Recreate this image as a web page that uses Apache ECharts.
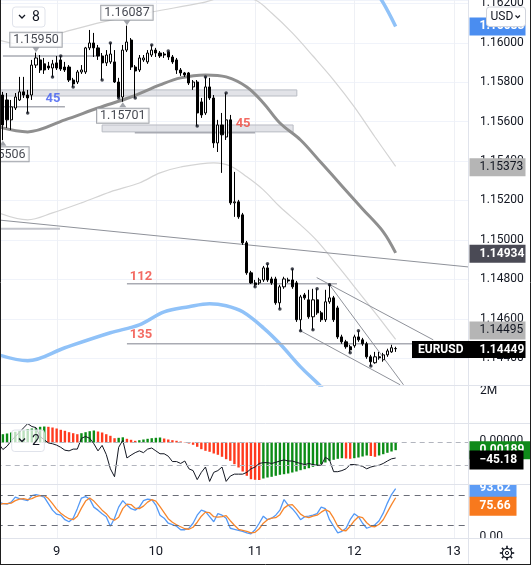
<!DOCTYPE html>
<html>
<head>
<meta charset="utf-8">
<script src="https://cdn.jsdelivr.net/npm/echarts@6.0.0/dist/echarts.min.js"></script>
<style>
html,body{margin:0;padding:0;background:#ffffff;}
#chart{width:531px;height:565px;}
</style>
</head>
<body>
<div id="chart"></div>
<script>
// ---------------- DATA ----------------
// hourly EURUSD bars; bar 0 = day 8, 10:00
const firstDay = 8, firstHour = 10, slotCount = 114;

const opens = [1.15659,1.15735,1.15710,1.15609,1.15669,1.15710,1.15751,1.15735,1.15735,1.15887,
1.15913,1.15893,1.15882,1.15872,1.15898,1.15913,1.15877,1.15877,1.15811,1.15801,
1.15852,1.15852,1.15974,1.15999,1.15974,1.15933,1.15898,1.15903,1.15903,1.15801,
1.15725,1.15963,1.16014,1.15877,1.15862,1.15913,1.15903,1.15938,1.15963,1.15948,
1.15943,1.15953,1.15928,1.15913,1.15862,1.15847,1.15847,1.15776,1.15801,1.15700,
1.15644,1.15776,1.15720,1.15492,1.15583,1.15522,1.15609,1.15188,1.15193,1.15127,
1.14985,1.14833,1.14782,1.14782,1.14797,1.14858,1.14802,1.14802,1.14681,1.14762,
1.14797,1.14797,1.14782,1.14595,1.14721,1.14696,1.14610,1.14696,1.14630,1.14595,
1.14686,1.14706,1.14655,1.14508,1.14483,1.14458,1.14463,1.14508,1.14493,1.14473,
1.14407,1.14377,1.14407,1.14392,1.14417,1.14432,1.14448];

const closes = [1.15710,1.15583,1.15609,1.15675,1.15725,1.15751,1.15735,1.15720,1.15887,1.15923,
1.15862,1.15862,1.15872,1.15893,1.15872,1.15867,1.15862,1.15811,1.15791,1.15852,
1.15862,1.15974,1.15999,1.15974,1.15933,1.15898,1.15938,1.15943,1.15801,1.15725,
1.15963,1.16004,1.15877,1.15857,1.15923,1.15923,1.15948,1.15963,1.15948,1.15933,
1.15938,1.15928,1.15903,1.15862,1.15847,1.15837,1.15796,1.15801,1.15644,1.15634,
1.15776,1.15720,1.15492,1.15583,1.15533,1.15609,1.15188,1.15193,1.15117,1.14985,
1.14833,1.14782,1.14772,1.14797,1.14858,1.14797,1.14782,1.14681,1.14762,1.14802,
1.14792,1.14762,1.14595,1.14711,1.14706,1.14610,1.14696,1.14630,1.14595,1.14686,
1.14706,1.14595,1.14508,1.14483,1.14458,1.14442,1.14508,1.14493,1.14473,1.14407,
1.14382,1.14407,1.14402,1.14417,1.14437,1.14453,1.14449];

const highs = [1.15735,1.15751,1.15745,1.15710,1.15745,1.15827,1.15827,1.15761,1.15913,1.15950,
1.15938,1.15923,1.15903,1.15913,1.15933,1.15933,1.15903,1.15887,1.15822,1.15862,
1.15887,1.15979,1.16065,1.16050,1.15989,1.15948,1.15963,1.15999,1.15963,1.15822,
1.15989,1.16087,1.16024,1.15887,1.15938,1.15938,1.15963,1.15989,1.15974,1.15958,
1.15953,1.15958,1.15938,1.15923,1.15872,1.15852,1.15852,1.15811,1.15811,1.15720,
1.15827,1.15822,1.15735,1.15609,1.15644,1.15745,1.15634,1.15345,1.15203,1.15137,
1.14995,1.14843,1.14797,1.14808,1.14868,1.14879,1.14813,1.14813,1.14772,1.14813,
1.14808,1.14853,1.14792,1.14721,1.14731,1.14747,1.14752,1.14752,1.14640,1.14747,
1.14772,1.14716,1.14666,1.14519,1.14493,1.14468,1.14519,1.14539,1.14503,1.14483,
1.14417,1.14432,1.14432,1.14427,1.14448,1.14468,1.14458];

const lows = [1.15619,1.15506,1.15568,1.15558,1.15659,1.15705,1.15720,1.15644,1.15710,1.15872,
1.15847,1.15842,1.15862,1.15827,1.15862,1.15857,1.15852,1.15801,1.15776,1.15791,
1.15842,1.15842,1.15963,1.15928,1.15913,1.15811,1.15882,1.15893,1.15796,1.15720,
1.15701,1.15953,1.15862,1.15720,1.15852,1.15903,1.15893,1.15928,1.15928,1.15923,
1.15923,1.15913,1.15893,1.15842,1.15832,1.15827,1.15786,1.15761,1.15578,1.15619,
1.15634,1.15710,1.15467,1.15446,1.15340,1.15507,1.15178,1.15117,1.15107,1.14975,
1.14823,1.14777,1.14762,1.14772,1.14787,1.14787,1.14772,1.14671,1.14650,1.14752,
1.14782,1.14752,1.14584,1.14539,1.14696,1.14600,1.14544,1.14620,1.14584,1.14584,
1.14676,1.14584,1.14498,1.14473,1.14448,1.14427,1.14453,1.14483,1.14463,1.14397,
1.14361,1.14372,1.14392,1.14382,1.14407,1.14427,1.14432];

// swing-point dots and labelled pivots (bar indices)
const dotHighIdx = [15,27,37,41,50,55,65,71,77,80,87];
const dotLowIdx = [7,13,18,25,29,33,48,62,68,73,76,85,90];
const pivotIdx = [31, 9, 30, 1];
const pivotSide = ['high', 'high', 'low', 'low'];

// moving averages / bands: bar index -> price
const darkMaX = [0,7,16,24,32,39,44,50,55,60,64,68,73,78,83,88,93,96];
const darkMaY = [1.15573,1.15548,1.15609,1.15669,1.15725,1.15786,1.15822,1.15837,1.15827,1.15776,1.15695,1.15593,1.15507,1.15391,1.15274,1.15157,1.15041,1.14934];
const blueMaX = [0,7,16,27,34,40,46,51,55,59,64,68,73,77,81];
const blueMaY = [1.14417,1.14387,1.14453,1.14529,1.14569,1.14635,1.14661,1.14676,1.14666,1.14635,1.14554,1.14473,1.14356,1.14275,1.14189];
const blueTopX = [90,93,96];
const blueTopY = [1.16298,1.16202,1.16083];
const upperX = [0,5,15,25,37,49,56,62,66,71,76,81,86,91,96];
const upperY = [1.16014,1.15994,1.16050,1.16105,1.16156,1.16202,1.16237,1.16217,1.16151,1.16050,1.15933,1.15811,1.15675,1.15522,1.15373];
const midX = [0,7,13,20,27,34,39,44,52,56,60,64,68,73,77,82,87,92,96];
const midY = [1.15137,1.15102,1.15137,1.15188,1.15244,1.15289,1.15340,1.15370,1.15391,1.15375,1.15320,1.15254,1.15168,1.15076,1.14995,1.14868,1.14737,1.14605,1.14495];

// drawings: [[barIndex, price], [barIndex, price]]
const segments = [
  [[1.0,1.15933],[24.5,1.15933]],
  [[-0.5,1.15675],[16.0,1.15675]],
  [[32.9,1.15543],[62.0,1.15543]],
  [[-0.5,1.15102],[113.5,1.14863]],
  [[-0.5,1.15056],[14.8,1.15056]],
  [[31.0,1.14777],[81.8,1.14777]],
  [[31.0,1.14473],[100.2,1.14473]],
  [[76.9,1.14809],[105.1,1.14493]],
  [[79.7,1.14781],[97.9,1.14265]],
  [[72.9,1.14540],[97.1,1.14265]]
];
const segmentKind = ['level','level','level','trend','soft','level','level','trend','trend','trend'];
const bands = [
  [[-0.5,1.15761],[72.1,1.15730]],
  [[25.0,1.15583],[71.2,1.15548]]
];
const noteX = [13.1, 59.1, 34.4, 34.4];
const noteY = [1.15715, 1.15591, 1.14815, 1.14519];
const noteText = ['45', '45', '112', '135'];
const noteKind = ['blue', 'red', 'red', 'red'];
const dayIdx = [14, 38, 62, 86, 110];

// oscillator panes
const histE5 = [8.3,8.3,9,10,10.7,11.7,12.3,13.3,14,14.3,
15.7,16,15.7,15,14,12.7,11.7,10.3,9.3,8.3,
9.3,10.3,11.3,12,11,10,8.3,6.7,4.3,4.7,
5.2,3.7,2.7,1.7,2.3,3,3.7,4.3,4.7,5,
4,3,2.3,1.7,1,0.3,-1,-2.3,-4.3,-6.7,
-8.3,-9.3,-11,-12.3,-14.3,-16.7,-18.3,-21.7,-25,-29,
-33.3,-36.7,-37.3,-37.5,-36,-35,-34.3,-33.3,-32.3,-31.7,
-31,-30,-29,-27.7,-26.7,-25.7,-24.3,-23.3,-21.7,-20,
-18.3,-17.3,-16.3,-15.7,-16,-16.3,-15.7,-15,-14,-13,
-13.5,-14.3,-13,-11.7,-10.3,-9,-7.7];
const cci = [59,17,41,80,112,143,175,206,185,177,
112,88,65,59,49,33,12,7,20,20,
99,112,99,59,7,47,-19,-124,-182,33,
85,-45,-24,-6,7,-6,20,28,7,-14,
-14,-32,-71,-71,-85,-67,-124,-137,-203,-150,
-111,-216,-150,-137,-111,-216,-177,-163,-163,-163,
-150,-124,-111,-85,-79,-79,-85,-77,-67,-59,
-67,-67,-77,-85,-93,-85,-93,-98,-98,-40,
-59,-145,-145,-137,-124,-93,-93,-98,-106,-124,
-111,-103,-98,-85,-67,-51,-45.18];
const stochK = [67,64,63,67,77,74,72,70,80,82,
80,77,64,51,43,41,32,28,35,54,
75,78,73,57,51,44,38,19,35,57,
70,61,54,51,57,70,73,72,61,41,
35,25,22,19,12,12,15,25,41,51,
48,38,28,44,41,35,15,13,11,9,
6,4,12,25,39,32,35,41,51,72,
61,54,44,32,38,39,41,44,57,54,
32,19,6,9,15,32,44,38,25,15,
18,22,30,45,65,82,93.62];
const stochD = [62,64,64,65,70,73,74,72,74,78,
80,80,74,64,53,45,39,34,32,39,
55,69,75,69,60,51,44,34,31,37,
54,63,62,55,54,59,67,72,69,58,
46,34,27,22,18,14,13,17,27,39,
47,46,38,37,38,40,30,21,13,11,
9,6,7,14,25,32,35,36,42,55,
61,62,53,43,38,36,39,41,47,52,
48,35,19,11,10,19,30,38,36,26,
19,18,23,32,47,62,75.66];
const histTagText = '0.00189';
const volumeScaleText = '2M';

// ---------------- CHART ----------------
const FONT = 'Roboto';
const TXT = '#131722';
const N = opens.length;
const categories = [];
for (let k = 0; k < slotCount; k++) {
  const h = firstHour + k;
  categories.push((firstDay + Math.floor(h / 24)) + ' ' + String(h % 24).padStart(2, '0') + ':00');
}
const zip = (xs, ys) => xs.map((x, i) => [x, ys[i]]);
const candleData = opens.map((o, i) => [o, closes[i], lows[i], highs[i]]);

const G = { left: -3.3, width: 471.3, outerBoundsMode: 'none' };
const grids = [
  Object.assign({ top: 0, height: 385 }, G),
  Object.assign({ top: 423.5, height: 60.5 }, G),
  Object.assign({ top: 485.5, height: 50.3 }, G)
];
const hiddenCat = (g) => ({ type: 'category', gridIndex: g, data: categories, show: false, boundaryGap: true });

const xAxis = [
  hiddenCat(0),
  { type: 'value', gridIndex: 0, min: -0.5, max: slotCount - 0.5, show: false },
  hiddenCat(1),
  { type: 'category', gridIndex: 2, data: categories, boundaryGap: true,
    axisLine: { show: false }, axisTick: { show: false }, splitLine: { show: false },
    axisLabel: { show: true, interval: (i, v) => v.endsWith(' 00:00'), formatter: v => v.split(' ')[0],
      margin: 9, color: TXT, fontSize: 13, fontFamily: FONT } }
];
const yAxis = [
  { type: 'value', gridIndex: 0, position: 'right', min: 1.14264, max: 1.16217, splitNumber: 10, scale: true,
    axisLine: { show: false }, axisTick: { show: false },
    splitLine: { show: true, lineStyle: { color: '#f0f3fa', width: 1 } },
    axisLabel: { margin: 12, color: TXT, fontSize: 12, fontFamily: FONT, showMinLabel: false, showMaxLabel: false,
      formatter: v => v.toFixed(5) } },
  { type: 'value', gridIndex: 1, min: -41.5, max: 19, show: false },
  { type: 'value', gridIndex: 1, min: -235, max: 207, show: false },
  { type: 'value', gridIndex: 2, min: 0, max: 100, show: false }
];

const series = [];
const lineOn = (xs, ys, color, width, z) => ({
  type: 'line', xAxisIndex: 1, yAxisIndex: 0, data: zip(xs, ys), smooth: 0.35, showSymbol: false,
  lineStyle: { color, width }, z, silent: true, clip: true
});
series.push(lineOn(upperX, upperY, '#d4d4d4', 1.2, 2));
series.push(lineOn(midX, midY, '#d4d4d4', 1.2, 2));
series.push(lineOn(blueMaX, blueMaY, '#90c2f8', 3.5, 3));
series.push(lineOn(blueTopX, blueTopY, '#90c2f8', 3.5, 3));
series.push(lineOn(darkMaX, darkMaY, '#8f8f8f', 3, 3));

const segStyle = { level: { color: '#a9abb3', width: 1.5 }, trend: { color: '#8f929a', width: 1 }, soft: { color: '#c3c5cc', width: 2 } };
segments.forEach((s, k) => {
  series.push({ type: 'line', xAxisIndex: 1, yAxisIndex: 0, data: s, showSymbol: false, silent: true,
    lineStyle: segStyle[segmentKind[k]], z: 4, clip: true });
});

series.push({
  type: 'candlestick', xAxisIndex: 0, yAxisIndex: 0, data: candleData, barWidth: 2.6, silent: true, z: 5,
  itemStyle: { color: '#ffffff', color0: '#000000', borderColor: '#000000', borderColor0: '#000000', borderWidth: 1 },
  markLine: { silent: true, symbol: ['none', 'none'], label: { show: false },
    lineStyle: { type: [1, 2], color: '#131722', width: 1 }, data: [{ yAxis: closes[N - 1] }] }
});

series.push({
  type: 'scatter', xAxisIndex: 0, yAxisIndex: 0, symbolSize: 3.5, silent: true, z: 6,
  itemStyle: { color: '#131722' },
  data: dotHighIdx.map(i => [i, highs[i]]).concat(dotLowIdx.map(i => [i, lows[i]]))
});

series.push({
  type: 'line', xAxisIndex: 1, yAxisIndex: 0, data: [], silent: true, z: 7,
  markArea: { silent: true, itemStyle: { color: 'rgba(190,194,204,0.45)', borderColor: '#b9bcc4', borderWidth: 1 },
    data: bands.map(b => [{ coord: b[0] }, { coord: b[1] }]) }
});

series.push({
  type: 'scatter', xAxisIndex: 0, yAxisIndex: 0, symbol: 'triangle', silent: true, z: 8,
  itemStyle: { color: '#8a8d95' },
  data: pivotIdx.map((i, k) => {
    const hi = pivotSide[k] === 'high';
    return { value: [i, hi ? highs[i] : lows[i]], symbolSize: [7, 5], symbolRotate: hi ? 180 : 0,
      symbolOffset: [0, hi ? -3 : 3], label: { position: hi ? 'top' : 'bottom', distance: hi ? 0.5 : 1.5 } };
  }),
  label: { show: true, formatter: p => p.value[1].toFixed(5), color: TXT, fontSize: 12.5, fontFamily: FONT,
    backgroundColor: '#ffffff', borderColor: '#8a8d95', borderWidth: 1, padding: [1, 3, 0, 3], lineHeight: 13 }
});

const noteColor = { blue: '#3f5bf0', red: '#f0463c' };
series.push({
  type: 'scatter', xAxisIndex: 1, yAxisIndex: 0, symbol: 'circle', symbolSize: 2, silent: true, z: 9,
  itemStyle: { color: 'rgba(0,0,0,0)' },
  data: noteX.map((x, k) => ({ value: [x, noteY[k]], label: { color: noteColor[noteKind[k]] } })),
  label: { show: true, position: 'inside', formatter: p => noteText[p.dataIndex], fontWeight: 'bold', fontSize: 13, fontFamily: FONT }
});

// pane 2
const GREEN = '#0c8c16', RED = '#ff3a1e';
series.push({
  type: 'bar', xAxisIndex: 2, yAxisIndex: 1, barWidth: 2.4, silent: true, z: 2,
  data: histE5.map((v, i) => ({ value: v, itemStyle: { color: (i === 0 || v >= histE5[i - 1]) ? GREEN : RED } })),
  markLine: { silent: true, symbol: ['none', 'none'], label: { show: false },
    lineStyle: { color: '#b2b5be', type: [5, 4], width: 1 }, data: [{ yAxis: 0 }] }
});
series.push({
  type: 'line', xAxisIndex: 2, yAxisIndex: 2, data: cci, showSymbol: false, silent: true, z: 3,
  lineStyle: { color: '#131722', width: 1 },
  markLine: { silent: true, symbol: ['none', 'none'], label: { show: false },
    lineStyle: { color: '#b2b5be', type: [5, 4], width: 1 }, data: [{ yAxis: -100 }] }
});
// pane 3
series.push({
  type: 'line', xAxisIndex: 3, yAxisIndex: 3, data: stochK, showSymbol: false, silent: true, z: 3,
  lineStyle: { color: '#5399f6', width: 1.3 },
  markLine: { silent: true, symbol: ['none', 'none'], label: { show: false },
    lineStyle: { color: '#6a6d78', type: [6, 5], width: 1 }, data: [{ yAxis: 80 }, { yAxis: 20 }] }
});
series.push({
  type: 'line', xAxisIndex: 3, yAxisIndex: 3, data: stochD, showSymbol: false, silent: true, z: 3,
  lineStyle: { color: '#f7862c', width: 1.3 }
});

const chart = echarts.init(document.getElementById('chart'), null, { renderer: 'canvas' });
chart.setOption({
  animation: false, backgroundColor: '#ffffff', textStyle: { fontFamily: FONT },
  grid: grids, xAxis, yAxis, series
});

// ---------------- overlays (axis tags, separators, UI bits) ----------------
const px = v => chart.convertToPixel({ xAxisIndex: 1 }, v);
const py = v => chart.convertToPixel({ yAxisIndex: 0 }, v);
const pyH = v => chart.convertToPixel({ yAxisIndex: 1 }, v);
const pyC = v => chart.convertToPixel({ yAxisIndex: 2 }, v);
const pyS = v => chart.convertToPixel({ yAxisIndex: 3 }, v);

const els = [];
let zc = 50;
function text(x, y, s, fill, font, z, align) {
  return { type: 'text', z, silent: true,
    style: { text: s, x, y, fill, font, align: align || 'left', verticalAlign: 'middle', textAlign: align || 'left', textVerticalAlign: 'middle' } };
}
function line(x1, y1, x2, y2, stroke, w, z) {
  return { type: 'line', z, silent: true, shape: { x1, y1, x2, y2 }, style: { stroke, lineWidth: w || 1 } };
}
function tag(cy, s, bg, fg, o) {
  o = o || {};
  const x0 = o.x0 || 469.5, w = o.w || 56, h = o.h || 18;
  const z = zc; zc += 2;
  els.push({ type: 'rect', z, silent: true, shape: { x: x0, y: cy - h / 2, width: w, height: h }, style: { fill: bg } });
  els.push(text(o.tx || 479.5, cy, s, fg, (o.bold ? 'bold ' : '') + '12px ' + FONT, z + 1));
}

// day grid lines
dayIdx.forEach(d => { const x = Math.round(px(d)) + 0.5; els.push(line(x, 0, x, 538, '#eef0f5', 1, 0)); });

// axis extras
els.push(text(480, 391, volumeScaleText, TXT, '12px ' + FONT, 44));
els.push(text(479.5, 440.5, '0.00000', TXT, '12px ' + FONT, 44));
els.push(text(479.5, 536.5, '0.00', TXT, '12px ' + FONT, 44));
els.push(line(468.5, 0, 468.5, 565, '#e0e3eb', 1, 45));

// price tags
tag(py(blueTopY[blueTopY.length - 1]), blueTopY[blueTopY.length - 1].toFixed(5), '#4a8df0', '#ffffff', { bold: true });
tag(py(upperY[upperY.length - 1]) + 0.8, upperY[upperY.length - 1].toFixed(5), '#b5b5b5', TXT);
tag(py(darkMaY[darkMaY.length - 1]) + 0.8, darkMaY[darkMaY.length - 1].toFixed(5), '#4a4a55', '#ffffff', { bold: true });
tag(py(midY[midY.length - 1]) - 9, midY[midY.length - 1].toFixed(5), '#b5b5b5', TXT);
(function () {
  const cy = py(closes[N - 1]) + 1;
  const z = zc; zc += 3;
  els.push({ type: 'rect', z, silent: true, shape: { x: 412, y: cy - 8.5, width: 113.5, height: 17 }, style: { fill: '#000000' } });
  els.push(text(418, cy, 'EURUSD', '#ffffff', 'bold 12px ' + FONT, z + 1));
  els.push(text(479.5, cy, closes[N - 1].toFixed(5), '#ffffff', 'bold 12px ' + FONT, z + 1));
})();
tag(pyH(histE5[N - 1]), histTagText, '#0f8a1a', '#ffffff', { w: 62, bold: true });
tag(pyC(cci[N - 1]) + 2, cci[N - 1].toFixed(2).replace('-', '\u2212'), '#000000', '#ffffff', { w: 54, h: 19, bold: true });
tag(pyS(stochK[N - 1]) - 0.5, stochK[N - 1].toFixed(2), '#5d9cf5', '#ffffff', { w: 47, bold: true });
tag(pyS(stochD[N - 1]) + 8.6, stochD[N - 1].toFixed(2), '#f8791d', '#ffffff', { w: 47, h: 19, bold: true });

// clip the stochastic tag at the pane top and the bottom scale label
els.push({ type: 'rect', z: 80, silent: true, shape: { x: 469, y: 470, width: 62, height: 14.5 }, style: { fill: '#ffffff' } });
els.push({ type: 'rect', z: 80, silent: true, shape: { x: 469, y: 538.7, width: 62, height: 26.3 }, style: { fill: '#ffffff' } });

// pane separators
[385.5, 423.5, 484.5, 538.5].forEach(y => els.push(line(0, y, 531, y, '#e0e3eb', 1, 82)));
els.push(line(468.5, 470, 468.5, 565, '#e0e3eb', 1, 83));

// UI boxes
function chevron(x, y, z) {
  return { type: 'polyline', z, silent: true, shape: { points: [[x, y], [x + 3, y + 3], [x + 6, y]] }, style: { stroke: TXT, lineWidth: 1.3, fill: null } };
}
els.push({ type: 'rect', z: 85, silent: true, shape: { x: 12.5, y: 7, width: 32.5, height: 20, r: 3 }, style: { fill: '#ffffff', stroke: '#e0e3eb', lineWidth: 1 } });
els.push(chevron(19, 15, 86));
els.push(text(32, 17.5, '8', TXT, '14px ' + FONT, 86));
els.push({ type: 'rect', z: 85, silent: true, shape: { x: 11.7, y: 430, width: 32.6, height: 21.5, r: 3 }, style: { fill: 'rgba(255,255,255,0.72)', stroke: '#e0e3eb', lineWidth: 1 } });
els.push(chevron(19, 438.5, 86));
els.push(text(32, 441, '2', TXT, '14px ' + FONT, 86));
els.push({ type: 'rect', z: 85, silent: true, shape: { x: 486.5, y: 7, width: 39, height: 19.5, r: 3 }, style: { fill: '#ffffff', stroke: '#d1d4dc', lineWidth: 1 } });
els.push(text(490.5, 17, 'USD', TXT, '12px ' + FONT, 86));
els.push({ type: 'polyline', z: 86, silent: true, shape: { points: [[515.5, 15.5], [517.7, 17.7], [519.9, 15.5]] }, style: { stroke: TXT, lineWidth: 1.2, fill: null } });

// gear icon
(function () {
  const cx = 507, cy = 553;
  els.push({ type: 'circle', z: 86, silent: true, shape: { cx, cy, r: 4.6 }, style: { stroke: TXT, lineWidth: 1.2, fill: '#ffffff' } });
  for (let k = 0; k < 8; k++) {
    const a = k * Math.PI / 4;
    els.push(line(cx + Math.cos(a) * 4.6, cy + Math.sin(a) * 4.6, cx + Math.cos(a) * 7.2, cy + Math.sin(a) * 7.2, TXT, 1.6, 86));
  }
  els.push({ type: 'circle', z: 87, silent: true, shape: { cx, cy, r: 1.6 }, style: { stroke: TXT, lineWidth: 1, fill: '#ffffff' } });
})();

// outer border
els.push(line(0.5, 0, 0.5, 565, '#1e1e1e', 1, 95));
els.push(line(530.5, 0, 530.5, 565, '#1e1e1e', 1, 95));
els.push(line(0, 564.5, 531, 564.5, '#1e1e1e', 1, 95));

chart.setOption({ graphic: { elements: els } });
</script>
</body>
</html>
